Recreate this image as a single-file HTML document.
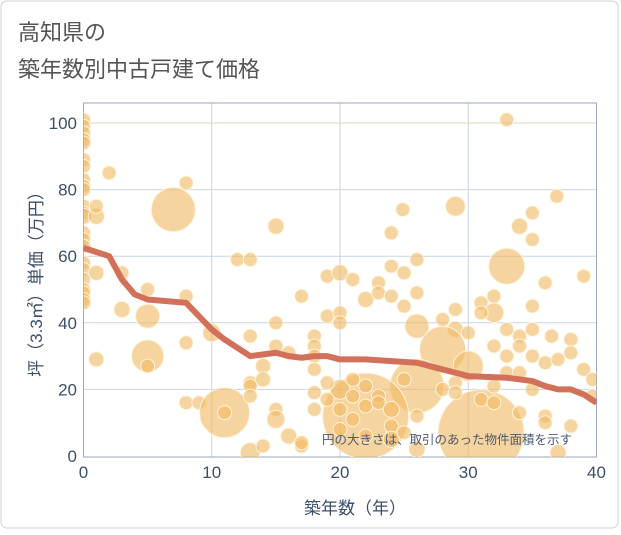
<!DOCTYPE html>
<html><head><meta charset="utf-8">
<style>
body{margin:0;background:#fff;font-family:"Liberation Sans","Noto Sans CJK JP",sans-serif;}
#wrap{position:relative;width:621px;height:530px;}
</style></head>
<body>
<div id="wrap">
<svg id="chart" width="621" height="530">
<rect x="1" y="1" width="617" height="527" rx="6" fill="#fff" stroke="#d0d0d0"/>
<text x="18" y="40" font-size="22" fill="#555">高知県の</text>
<text x="18" y="77" font-size="22" fill="#555">築年数別中古戸建て価格</text>
<g id="grid"></g>
<g id="plot"></g>
<text x="322" y="444" font-size="12.5" fill="#4a5a72">円の大きさは、取引のあった物件面積を示す</text>
<text x="355" y="514" font-size="17" fill="#3c4f6a" text-anchor="middle">築年数（年）</text>
<text transform="translate(42,280) rotate(-90)" font-size="17" fill="#3c4f6a" text-anchor="middle">坪（3.3㎡）単価（万円）</text>
</svg>
</div>
<script>
const bubbleYears=[0,0,0,0,0,0,0,0,0,0,0,0,0,0,0,0,0,0,0,0,0,0,0,1,1,1,1,2,3,3,5,5,5,5,7,8,8,8,8,9,10,11,11,12,13,13,13,13,13,13,14,14,14,15,15,15,15,15,16,16,17,17,18,18,18,18,18,18,33,24.9,29,36.9,35,34,35,24,33,26,24,25,19,20,21,23,39,36,22,23,24,26,25,32,31,32,31,35,19,20,20,26,28,29,29,30,33,34,35,36.5,32,34,33,35,38,38,28,30,26,22,31,20,21,22,23,20,21,24,26,28,29,29,31,32,33,34,35,36,37,39,39.7,39.7,36,36,38,34,32,37,26,17,19,21,22,23,24,25,19,20,22,24,25];
const bubblePrices=[101,99,97,95,94,89,87,83,81,80,75,73,72,67,65,63,58,56,53,50,49,47,46,72,75,55,29,85,55,44,50,42,30,27,74,82,48,34,16,16,37,13,13,59,59,36,22,21,18,1,27,23,3,69,40,33,14,11,31,6,48,3,36,33,30,26,19,14,101,74,75,78,73,69,65,67,57,59,57,55,54,55,53,52,54,52,47,49,48,49,45,48,46,43,43,45,42,43,40,39,41,44,38,37,38,36,38,36,33,33,30,30,35,31,32,27,21,12,7,20,23,21,18,14,11,9,12,20,22,19,17,21,25,25,20,28,29,26,23,18,12,10,9,13,16,1,2,4,22,18,15,16,14,23,17,8,6,5,7];
const bubbleAreas=[60,60,60,60,60,60,60,60,60,60,60,60,80,60,60,60,60,60,60,60,60,60,60,80,60,70,70,60,60,80,60,180,320,60,600,60,60,60,60,60,100,770,60,60,60,60,60,60,60,120,70,70,60,80,60,60,60,100,60,80,60,60,60,60,60,60,60,60,60,60,120,60,60,80,60,60,400,60,60,60,60,80,60,60,60,60,80,60,60,60,60,60,60,120,60,60,60,60,60,180,60,60,80,60,60,60,60,60,60,60,60,60,60,60,650,280,900,2280,2280,120,60,60,60,60,60,60,60,60,60,60,60,60,60,60,60,60,60,60,60,60,60,60,60,60,60,80,80,60,60,60,60,60,80,60,60,60,60,80,60,60];
const trendYears=[0,2,3,4,5,8,10,11,13,15,16,17,18,19,20,22,24,26,28,29,30,33,35,36,37,38,39,40];
const trendPrices=[62.5,60,53,48.5,47,46,38,35,30,31,30,29.5,30,30,29,29,28.5,28,26,25,24,23.5,22.5,21,20,20,18.5,16];
const xTicks=[0,10,20,30,40];
const yTicks=[0,20,40,60,80,100];

const NS="http://www.w3.org/2000/svg";
const L=83.5,R=596.5,T=103,B=457;
const xs=v=>L+(v/40)*(R-L);
const ys=v=>456-(v/100)*333;
function mk(tag,attrs,parent){const e=document.createElementNS(NS,tag);for(const k in attrs)e.setAttribute(k,attrs[k]);parent.appendChild(e);return e;}
const grid=document.getElementById('grid');
const plot=document.getElementById('plot');
const defs=mk('defs',{},grid);
const cp=mk('clipPath',{id:'clip'},defs);
mk('rect',{x:L,y:T,width:R-L,height:B-T},cp);
xTicks.forEach(t=>{
  if(t>0&&t<40){const g=mk('line',{x1:xs(t),x2:xs(t),y1:T,y2:B,stroke:'#c9d6e6','stroke-width':1},grid);
  
  }
  const lb=mk('text',{x:xs(t),y:478,'font-size':17,fill:'#3c4f6a','text-anchor':'middle'},grid);
  
  
  lb.textContent=t;
});
yTicks.forEach(t=>{
  if(t>0){const g=mk('line',{x1:L,x2:R,y1:ys(t),y2:ys(t),stroke:t===100?'#ddd4b8':'#c9d6e6','stroke-width':1},grid);
  
  }
  const lb=mk('text',{x:77,y:ys(t)+6,'font-size':17,fill:'#3c4f6a','text-anchor':'end'},grid);
  
  
  lb.textContent=t;
});
const frame=mk('rect',{x:L,y:T,width:R-L,height:B-T,fill:'none',stroke:'#9aa7b8','stroke-width':1},grid);


const bg=mk('g',{'clip-path':'url(#clip)'},plot);
bubbleYears.forEach((yr,i)=>{
  const c=mk('circle',{cx:xs(yr),cy:ys(bubblePrices[i]),r:0.9*Math.sqrt(bubbleAreas[i]),fill:'#f0b964','fill-opacity':0.62,stroke:'#fff3dc','stroke-width':1},bg);
  
  
});
const pts=trendYears.map((x,i)=>xs(x)+','+ys(trendPrices[i])).join(' ');
const pl=mk('polyline',{points:pts,fill:'none',stroke:'#d3705a','stroke-width':6,'stroke-linejoin':'round'},bg);


</script>
</body></html>
